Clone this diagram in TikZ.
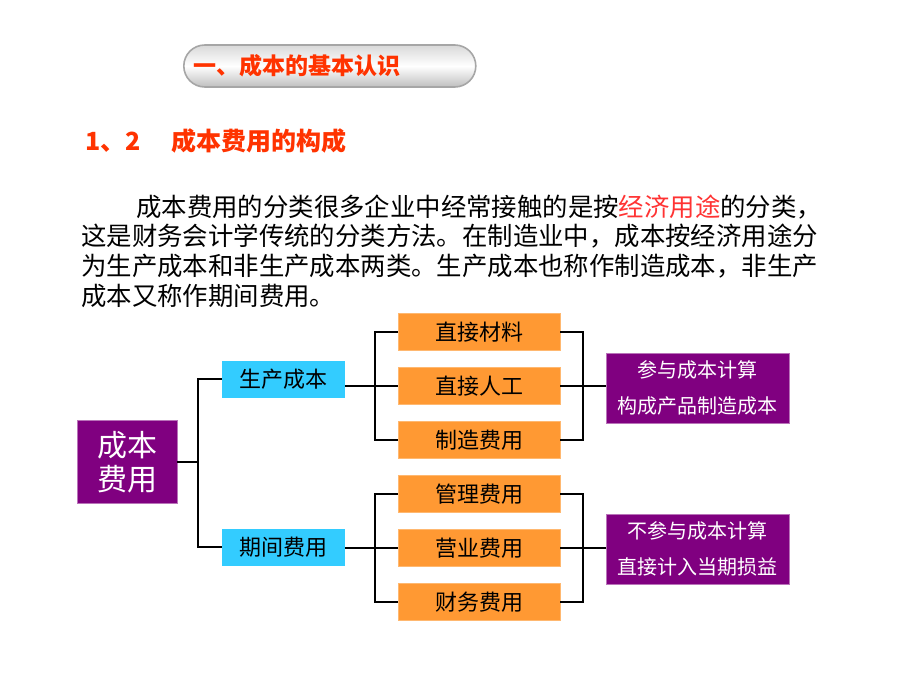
\documentclass[tikz,border=0pt]{standalone}
\usepackage{fontspec}
\usepackage{xcolor}
\newfontfamily\cjk{Noto Sans CJK SC}
\definecolor{titlered}{HTML}{FF3300}
\definecolor{keyred}{HTML}{FF3333}
\definecolor{pbox}{HTML}{800080}
\definecolor{cbox}{HTML}{33CCFF}
\definecolor{obox}{HTML}{FF9933}

\begin{document}
\begin{tikzpicture}[x=1pt,y=-1pt,
	bar/.style={draw=gray!70,line width=1.6pt,rounded corners=21pt,top color=gray!30,bottom color=gray!50,middle color=white,
		minimum width=292pt,minimum height=42pt,inner xsep=10pt,inner ysep=0pt,text width=272pt,align=left,anchor=west,
		font=\cjk\bfseries\fontsize{23}{23}\selectfont,text=titlered},
	txt/.style={anchor=base west,inner sep=0pt,font=\cjk\fontsize{25.4}{30}\selectfont},
	root/.style={fill=pbox,draw=pbox!55,line width=0.8pt,text=white,minimum width=100pt,minimum height=83pt,inner sep=0pt,align=center,font=\cjk\fontsize{30}{34}\selectfont},
	kind/.style={fill=cbox,minimum width=123pt,minimum height=37pt,inner sep=0pt,font=\cjk\fontsize{22}{22}\selectfont},
	item/.style={fill=obox,draw=obox!70,line width=0.6pt,minimum width=162pt,minimum height=37pt,inner sep=0pt,font=\cjk\fontsize{22}{22}\selectfont},
	note/.style={fill=pbox,draw=pbox!55,line width=0.8pt,text=white,minimum width=183pt,minimum height=70pt,inner sep=0pt,align=center,font=\cjk\fontsize{20}{36}\selectfont},
	link/.style={line width=2.2pt,black}]
	\useasboundingbox (0,0) rectangle (920,690);

	% title and text
	\node[bar] (ttl) at (183,66) {一、成本的基本认识};
	\node[txt,font=\cjk\bfseries\fontsize{25}{25}\selectfont,text=titlered] (sub) at (85,150) {1、2\hspace{31pt}成本费用的构成};
	\node[txt] (t1) at (81,216) {\hspace*{55pt}成本费用的分类很多企业中经常接触的是按\textcolor{keyred}{经济用途}的分类，};
	\node[txt] (t2) at (81,245) {这是财务会计学传统的分类方法。在制造业中，成本按经济用途分};
	\node[txt] (t3) at (81,275) {为生产成本和非生产成本两类。生产成本也称作制造成本，非生产};
	\node[txt] (t4) at (81,305) {成本又称作期间费用。};

	% tree
	\node[root] (cb) at (127,462) {成本\\费用};
	\node[kind] (sc) at (283.5,379) {生产成本};
	\node[kind] (qj) at (283.5,547) {期间费用};

	\node[item] (m1) at (479,332) {直接材料};
	\node[item] (m2) at (479,386) {直接人工};
	\node[item] (m3) at (479,440) {制造费用};
	\node[item] (m4) at (479,494) {管理费用};
	\node[item] (m5) at (479,548) {营业费用};
	\node[item] (m6) at (479,602) {财务费用};

	\node[note] (p1) at (697.5,388) {参与成本计算\\构成产品制造成本};
	\node[note] (p2) at (697.5,549) {不参与成本计算\\直接计入当期损益};

	\coordinate (j1) at (198,462);
	\coordinate (j2) at (375,386);
	\coordinate (j3) at (375,548);
	\coordinate (j4) at (583,386);
	\coordinate (j5) at (583,548);

	\draw[link] (cb.east) -- (j1);
	\draw[link] (sc.west) -| (j1) |- (qj.west);

	\draw[link] (m1.west) -| (j2) |- (m3.west);
	\draw[link] (sc.east |- m2.west) -- (m2.west);
	\draw[link] (m4.west) -| (j3) |- (m6.west);
	\draw[link] (qj.east |- m5.west) -- (m5.west);

	\draw[link] (m1.east) -| (j4) |- (m3.east);
	\draw[link] (m2.east) -- (p1.west |- m2.east);
	\draw[link] (m4.east) -| (j5) |- (m6.east);
	\draw[link] (m5.east) -- (p2.west |- m5.east);
\end{tikzpicture}
\end{document}
